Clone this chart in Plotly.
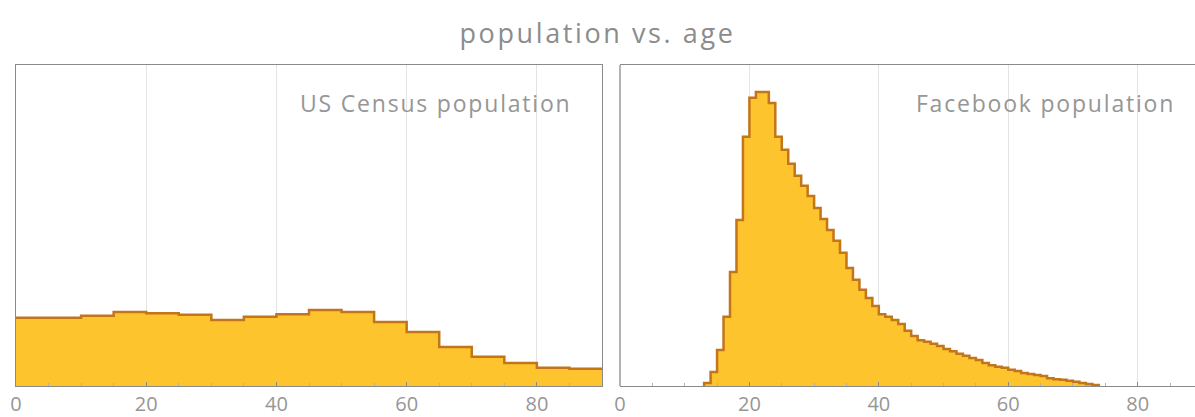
import plotly.graph_objects as go

# ---- data (share of population, % per year of age) ----
census_bin_edges = [0, 5, 10, 15, 20, 25, 30, 35, 40, 45, 50, 55, 60, 65, 70, 75, 80, 85, 90]
census_share = [1.31, 1.31, 1.35, 1.42, 1.40, 1.37, 1.27, 1.33, 1.38, 1.46, 1.42, 1.23,
                1.04, 0.75, 0.56, 0.44, 0.35, 0.33]

facebook_ages = list(range(13, 74))
facebook_share = [0.06, 0.27, 0.69, 1.33, 2.19, 3.19, 4.79, 5.54, 5.65, 5.65,
                  5.44, 4.79, 4.54, 4.27, 4.04, 3.85, 3.65, 3.42, 3.21, 3.00,
                  2.79, 2.56, 2.27, 2.04, 1.85, 1.69, 1.54, 1.38, 1.33, 1.27,
                  1.19, 1.06, 0.96, 0.88, 0.85, 0.81, 0.77, 0.71, 0.67, 0.62,
                  0.58, 0.54, 0.50, 0.44, 0.40, 0.37, 0.35, 0.31, 0.29, 0.25,
                  0.23, 0.21, 0.19, 0.15, 0.13, 0.12, 0.10, 0.08, 0.06, 0.04, 0.02]

x_tick_values = [0, 20, 40, 60, 80]
panel_labels = ["US Census population", "Facebook population"]
chart_title = "population vs. age"

FILL = "#FDC42E"
EDGE = "#C27519"
FRAME = "#8a8a8a"
TEXT = "#969696"
FONT = "Open Sans"

fig = go.Figure()

# census step histogram
cx = census_bin_edges[:-1] + [census_bin_edges[-1]]
cy = census_share + [census_share[-1]]
fig.add_trace(go.Scatter(x=cx, y=cy, mode="lines", line=dict(shape="hv", color=EDGE, width=2.5),
                         fill="tozeroy", fillcolor=FILL, xaxis="x", yaxis="y",
                         hoverinfo="skip", showlegend=False))

# facebook step histogram
fx = [facebook_ages[0]] + facebook_ages + [facebook_ages[-1] + 1, facebook_ages[-1] + 1]
fy = [0] + facebook_share + [facebook_share[-1], 0]
fig.add_trace(go.Scatter(x=fx, y=fy, mode="lines", line=dict(shape="hv", color=EDGE, width=2.5),
                         fill="tozeroy", fillcolor=FILL, xaxis="x2", yaxis="y2",
                         hoverinfo="skip", showlegend=False))

W, H = 1195, 417
ml, mr, mt, mb = 16, 0, 65, 31
pw = W - ml - mr
left_end = (602 - ml) / pw
right_start = (620 - ml) / pw

xcommon = dict(
    showline=True, linecolor=FRAME, linewidth=1.3, mirror=True,
    showgrid=True, gridcolor="#e4e4e4", gridwidth=1,
    tickvals=x_tick_values, ticks="inside", ticklen=4, tickcolor=FRAME,
    minor=dict(dtick=5, ticks="inside", ticklen=3, tickcolor="#b0b0b0", showgrid=False),
    tickfont=dict(family=FONT, size=20, color=TEXT),
    zeroline=False, fixedrange=True,
)
ycommon = dict(showticklabels=False, showgrid=False, zeroline=False, ticks="",
               range=[0, 6.17], fixedrange=True)

label_y = 1 - (103 - mt) / (H - mt - mb)
fig.update_layout(
    width=W, height=H,
    margin=dict(l=ml, r=mr, t=mt, b=mb),
    paper_bgcolor="white", plot_bgcolor="white",
    xaxis=dict(domain=[0, left_end], range=[0, 90], **xcommon),
    yaxis=dict(anchor="x", showline=True, linecolor=FRAME, linewidth=1.3, mirror=True, **ycommon),
    xaxis2=dict(domain=[right_start, 1], range=[0, (W - 620) / 6.5 + 0.4], anchor="y2", **xcommon),
    yaxis2=dict(anchor="x2", showline=False, **ycommon),
    title=dict(text=chart_title, x=0.5, xanchor="center", y=1 - 34 / H, yanchor="middle",
               font=dict(family=FONT, size=27, color="#8c8c8c")),
    annotations=[
        dict(text=panel_labels[0], xref="x", yref="paper", x=64.5, y=label_y,
             xanchor="center", yanchor="middle", showarrow=False,
             font=dict(family=FONT, size=23, color=TEXT)),
        dict(text=panel_labels[1], xref="x2", yref="paper", x=65.7, y=label_y,
             xanchor="center", yanchor="middle", showarrow=False,
             font=dict(family=FONT, size=23, color=TEXT)),
    ],
    shapes=[dict(type="line", xref="x2 domain", yref="y2 domain", x0=0, x1=0, y0=0, y1=1,
                 line=dict(color=FRAME, width=1.3), layer="above")],
)

post = """
document.body.style.margin='0';
document.body.style.overflow='hidden';
document.querySelectorAll('.gtitle').forEach(function(e){e.style.letterSpacing='2.6px';});
document.querySelectorAll('.annotation-text').forEach(function(e){e.style.letterSpacing='1.8px';});
"""
fig.write_html("out.html", post_script=post, config={"displayModeBar": False})
